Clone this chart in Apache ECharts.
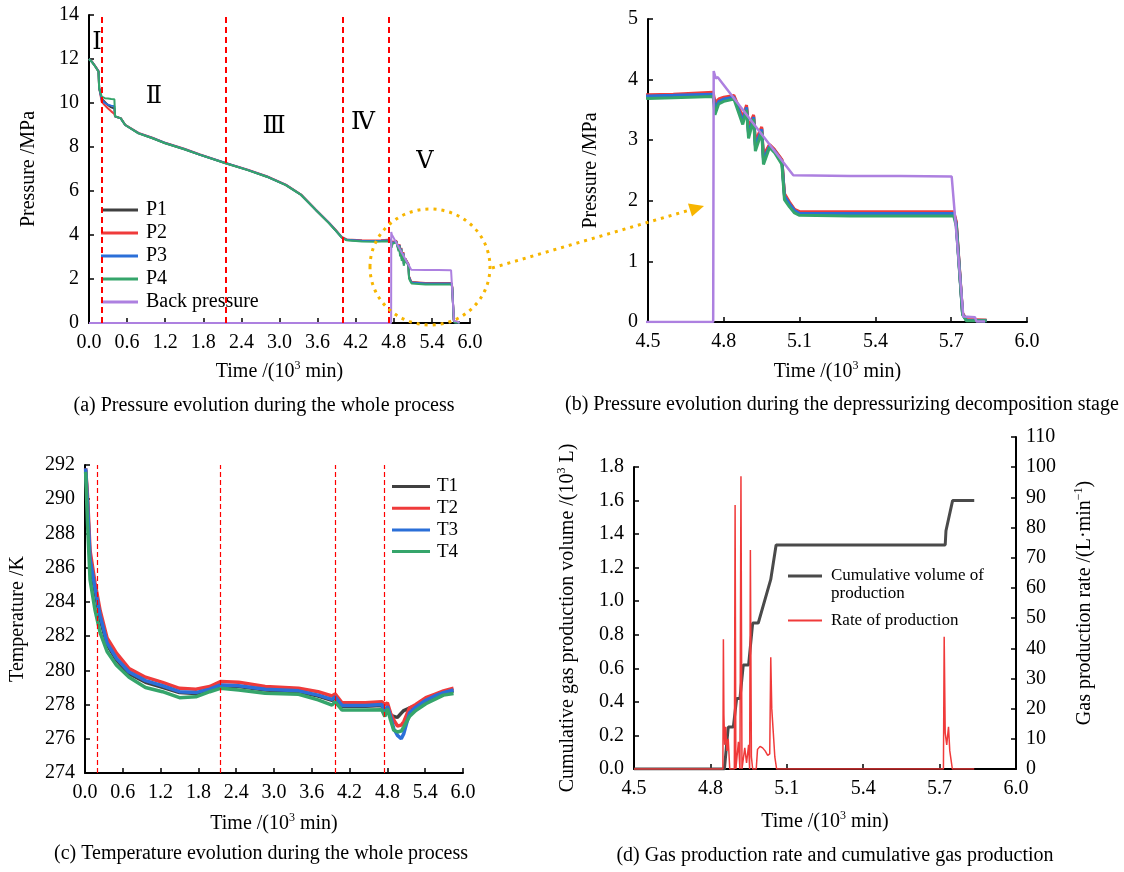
<!DOCTYPE html>
<html>
<head>
<meta charset="utf-8">
<script src="https://cdn.jsdelivr.net/npm/echarts@6/dist/echarts.min.js"></script>
<style>
  html, body { margin: 0; padding: 0; background: #fff; }
  #chart { width: 1124px; height: 872px; }
</style>
</head>
<body>
<div id="chart"></div>
<script>
// ---- pressure (panels a and b), time in 10^3 min, pressure in MPa
const pTime = [0, 0.05, 0.10, 0.15, 0.16, 0.20, 0.25, 0.30, 0.35, 0.40, 0.41, 0.50, 0.57, 0.78, 1.00, 1.20, 1.50, 1.75, 2.15, 2.50,
  2.80, 3.10, 3.34, 3.57, 3.78, 3.90, 3.98, 4.06, 4.30, 4.50, 4.60, 4.758, 4.765, 4.78, 4.80, 4.84, 4.875, 4.89, 4.898, 4.918,
  4.925, 4.95, 4.957, 4.981, 5.00, 5.03, 5.04, 5.06, 5.08, 5.10, 5.30, 5.50, 5.71, 5.72, 5.745, 5.76, 5.84];
const p1 = [12.0, 11.86, 11.66, 11.43, 10.68, 10.2, 10.05, 9.9, 9.8, 9.75, 9.39, 9.3, 9.0, 8.62, 8.4, 8.17, 7.9, 7.64, 7.26, 6.95,
  6.65, 6.27, 5.82, 5.14, 4.54, 4.16, 3.89, 3.77, 3.73, 3.73, 3.74, 3.76, 3.55, 3.65, 3.68, 3.72, 3.34, 3.55, 3.12, 3.4,
  2.92, 3.2, 2.7, 2.92, 2.84, 2.67, 2.1, 1.96, 1.85, 1.8, 1.8, 1.8, 1.8, 1.63, 0.14, 0.03, 0.03];
const p2 = [12.0, 11.87, 11.67, 11.45, 10.7, 10.05, 9.9, 9.75, 9.62, 9.5, 9.38, 9.31, 9.01, 8.64, 8.42, 8.19, 7.92, 7.66, 7.28, 6.97,
  6.67, 6.29, 5.84, 5.16, 4.56, 4.18, 3.91, 3.8, 3.76, 3.75, 3.76, 3.79, 3.62, 3.68, 3.71, 3.74, 3.38, 3.58, 3.2, 3.42,
  2.98, 3.22, 2.75, 2.93, 2.85, 2.68, 2.12, 1.98, 1.86, 1.82, 1.82, 1.82, 1.82, 1.66, 0.15, 0.04, 0.03];
const p3 = [12.0, 11.86, 11.66, 11.44, 10.68, 10.15, 10.0, 9.92, 9.88, 9.85, 9.39, 9.3, 9.0, 8.63, 8.41, 8.18, 7.91, 7.65, 7.27, 6.96,
  6.66, 6.28, 5.83, 5.15, 4.55, 4.16, 3.89, 3.78, 3.74, 3.73, 3.74, 3.76, 3.52, 3.64, 3.68, 3.71, 3.32, 3.54, 3.1, 3.38,
  2.9, 3.18, 2.67, 2.9, 2.83, 2.65, 2.08, 1.95, 1.84, 1.79, 1.79, 1.79, 1.79, 1.62, 0.13, 0.03, 0.02];
const p4 = [12.0, 11.85, 11.65, 11.42, 10.67, 10.29, 10.22, 10.2, 10.18, 10.17, 9.4, 9.3, 9.0, 8.62, 8.4, 8.17, 7.9, 7.64, 7.26, 6.95,
  6.65, 6.27, 5.82, 5.14, 4.53, 4.15, 3.88, 3.76, 3.7, 3.69, 3.7, 3.72, 3.42, 3.6, 3.64, 3.68, 3.26, 3.5, 3.03, 3.35,
  2.82, 3.14, 2.6, 2.88, 2.8, 2.6, 2.02, 1.9, 1.8, 1.76, 1.75, 1.75, 1.75, 1.58, 0.12, 0.02, 0.02];
const bpTime = [0, 4.758, 4.760, 4.768, 4.776, 5.075, 5.30, 5.50, 5.702, 5.748, 5.794, 5.80, 5.834];
const backPressure = [0, 0, 4.14, 4.02, 4.04, 2.42, 2.41, 2.41, 2.40, 0.09, 0.08, 0.01, 0.01];

// ---- temperature (panel c), K
const tTime = [0.01, 0.04, 0.08, 0.16, 0.24, 0.35, 0.5, 0.7, 0.96, 1.23, 1.5, 1.76, 1.98, 2.15, 2.44, 2.86, 3.39, 3.7, 3.92, 3.97,
  4.08, 4.45, 4.71, 4.76, 4.8, 4.85, 4.9, 4.96, 5.02, 5.06, 5.15, 5.25, 5.41, 5.55, 5.69, 5.85];
const t1 = [291.7, 289.7, 286.3, 284.6, 283.0, 281.5, 280.6, 279.8, 279.3, 279.0, 278.7, 278.65, 278.85, 279.1, 279.05, 278.85, 278.75, 278.5, 278.25, 278.4,
  277.9, 277.9, 277.95, 277.5, 277.85, 277.4, 277.3, 277.25, 277.5, 277.65, 277.8, 277.9, 278.2, 278.45, 278.65, 278.8];
const t2 = [291.8, 290.2, 287.0, 285.1, 283.5, 281.9, 281.0, 280.1, 279.6, 279.3, 278.95, 278.9, 279.05, 279.35, 279.3, 279.05, 278.95, 278.75, 278.5, 278.62,
  278.1, 278.1, 278.17, 278.0, 278.1, 277.5, 277.1, 276.75, 276.8, 277.0, 277.8, 278.0, 278.4, 278.6, 278.8, 278.95];
const t3 = [291.8, 289.8, 286.5, 284.8, 283.2, 281.6, 280.7, 279.9, 279.4, 279.1, 278.75, 278.7, 278.9, 279.15, 279.1, 278.9, 278.8, 278.55, 278.3, 278.45,
  277.95, 277.95, 278.0, 277.6, 277.9, 277.3, 276.6, 276.2, 276.0, 276.3, 277.5, 277.85, 278.25, 278.5, 278.7, 278.85];
const t4 = [291.6, 288.6, 285.3, 283.5, 282.2, 281.1, 280.3, 279.6, 279.0, 278.75, 278.4, 278.45, 278.75, 278.95, 278.85, 278.66, 278.6, 278.27, 277.97, 278.17,
  277.68, 277.68, 277.7, 277.3, 277.75, 277.1, 276.5, 276.4, 276.45, 276.7, 277.3, 277.65, 278.05, 278.3, 278.55, 278.65];

// ---- gas production (panel d)
const cumTime = [4.5, 4.855, 4.87, 4.89, 4.903, 4.916, 4.929, 4.95, 4.966, 4.988, 5.037, 5.058, 5.722, 5.725, 5.751, 5.836];
const cumVolume = [0, 0, 0.25, 0.25, 0.42, 0.42, 0.62, 0.62, 0.87, 0.87, 1.13, 1.335, 1.335, 1.42, 1.6, 1.6];
const rateTime = [4.5, 4.849, 4.851, 4.853, 4.856, 4.860, 4.865, 4.870, 4.876, 4.894, 4.897, 4.900, 4.905, 4.910, 4.916, 4.920,
  4.924, 4.928, 4.935, 4.942, 4.950, 4.954, 4.957, 4.961, 4.966, 4.972, 4.980, 4.985, 4.995, 5.005, 5.015, 5.025,
  5.033, 5.037, 5.041, 5.047, 5.053, 5.060, 5.715, 5.718, 5.722, 5.728, 5.735, 5.740, 5.745, 5.750, 5.753, 5.836];
const rate = [0, 0, 43, 18, 8, 14, 6, 10, 0, 0, 87.5, 0, 0, 9, 0, 97,
  0, 0, 7, 2, 8, 0, 72.6, 4, 0, 0, 0, 6.5, 7.5, 7, 6, 4.5,
  5, 37, 20, 12, 4, 0, 0, 43.8, 12, 8, 14, 6, 3, 0, 0, 0];

// stage boundaries (dashed red lines)
const stagesA = [0.2, 2.15, 3.99, 4.72];
const stagesC = [0.19, 2.14, 3.98, 4.75];

const serif = '"Liberation Serif", "Times New Roman", serif';
const colors = { c1: '#404040', c2: '#ef3b3b', c3: '#2b6fd8', c4: '#35a56b', bp: '#ad80e0', gold: '#f7b500' };

const zip = (xs, ys) => xs.map((x, i) => [x, ys[i]]);

const supRich = {
  sup: { fontFamily: serif, fontSize: 12, color: '#000', verticalAlign: 'bottom', padding: [0, 0, 12, 0] }
};

function axisCommon() {
  return {
    type: 'value',
    nameLocation: 'middle',
    nameTextStyle: { color: '#000', fontFamily: serif, fontSize: 20, rich: supRich },
    axisLine: { show: true, onZero: false, lineStyle: { color: '#000', width: 2 } },
    axisTick: { show: true, inside: true, length: 5, lineStyle: { color: '#000', width: 1.5 } },
    axisLabel: { color: '#000', fontFamily: serif, fontSize: 20, margin: 10 },
    splitLine: { show: false }
  };
}

function timeAxis(grid, min, max, interval, gap) {
  const a = axisCommon();
  a.gridIndex = grid;
  a.min = min; a.max = max; a.interval = interval;
  a.name = 'Time /(10{sup|3} min)';
  a.nameGap = gap;
  a.axisLabel.formatter = v => v.toFixed(1);
  return a;
}

function valAxis(grid, min, max, interval, name, gap, digits, pos) {
  const a = axisCommon();
  a.gridIndex = grid;
  a.min = min; a.max = max; a.interval = interval;
  a.name = name;
  a.nameGap = gap;
  if (pos) a.position = pos;
  a.axisLabel.formatter = v => v.toFixed(digits);
  return a;
}

function line(name, xs, ys, color, width, axis) {
  return {
    type: 'line', name, data: zip(xs, ys),
    xAxisIndex: axis, yAxisIndex: axis,
    symbol: 'none', animation: false,
    lineStyle: { color, width }, itemStyle: { color }
  };
}

function stageLines(axis, values, width, dash) {
  return {
    type: 'line', name: 'stage' + axis, data: [], xAxisIndex: axis, yAxisIndex: axis,
    animation: false,
    markLine: {
      silent: true, symbol: ['none', 'none'], animation: false,
      label: { show: false },
      lineStyle: { color: '#ff0000', width, type: dash },
      data: values.map(v => ({ xAxis: v }))
    }
  };
}

function caption(text, x, y, align) {
  return {
    type: 'text', z: 50,
    style: { text, x, y, align: align || 'center', verticalAlign: 'middle',
      font: '20px ' + serif, fill: '#000' }
  };
}

function roman(text, x, y) {
  return {
    type: 'text', z: 50,
    style: { text, x, y, align: 'center', verticalAlign: 'middle',
      font: '24px "Liberation Serif", "DejaVu Serif", serif', fill: '#000' }
  };
}

const chart = echarts.init(document.getElementById('chart'));

const option = {
  animation: false,
  backgroundColor: '#fff',
  textStyle: { fontFamily: serif },
  grid: [
    { left: 89, top: 15, width: 381, height: 308 },
    { left: 648, top: 19, width: 379, height: 303 },
    { left: 85, top: 465, width: 378, height: 308 },
    { left: 634, top: 467, width: 382, height: 302 },
    { left: 634, top: 437, width: 382, height: 332 }
  ],
  xAxis: [
    timeAxis(0, 0, 6, 0.6, 37),
    timeAxis(1, 4.5, 6, 0.3, 38),
    timeAxis(2, 0, 6, 0.6, 39),
    timeAxis(3, 4.5, 6, 0.3, 41),
    Object.assign(timeAxis(4, 4.5, 6, 0.3, 41), { show: false })
  ],
  yAxis: [
    valAxis(0, 0, 14, 2, 'Pressure /MPa', 50, 0),
    valAxis(1, 0, 5, 1, 'Pressure /MPa', 47, 0),
    valAxis(2, 274, 292, 2, 'Temperature /K', 57, 0),
    valAxis(3, 0, 1.8, 0.2, 'Cumulative gas production volume /(10{sup|3} L)', 54, 1),
    valAxis(4, 0, 110, 10, 'Gas production rate /(L·min{sup|−1})', 57, 0, 'right')
  ],
  legend: [
    {
      orient: 'vertical', left: 101, top: 200, padding: 0,
      icon: 'rect', itemWidth: 37, itemHeight: 3, itemGap: 3,
      textStyle: { fontFamily: serif, fontSize: 20, color: '#000', padding: [0, 0, 0, 3] },
      data: ['P1', 'P2', 'P3', 'P4', 'Back pressure']
    },
    {
      orient: 'vertical', left: 392, top: 477, padding: 0,
      icon: 'rect', itemWidth: 38, itemHeight: 3, itemGap: 2.7,
      textStyle: { fontFamily: serif, fontSize: 19, color: '#000', padding: [0, 0, 0, 2] },
      data: ['T1', 'T2', 'T3', 'T4']
    },
    {
      // leading blank line keeps the bar level with the first text line
      orient: 'vertical', left: 788, top: 549, padding: 0,
      icon: 'rect', itemWidth: 34, itemHeight: 3,
      textStyle: { fontFamily: serif, fontSize: 17, color: '#000', lineHeight: 18, padding: [0, 0, 0, 4] },
      formatter: () => ' \nCumulative volume of\nproduction',
      data: ['Cumulative volume of production']
    },
    {
      orient: 'vertical', left: 788, top: 612, padding: 0,
      icon: 'rect', itemWidth: 34, itemHeight: 2,
      textStyle: { fontFamily: serif, fontSize: 17, color: '#000', padding: [0, 0, 0, 4] },
      data: ['Rate of production']
    }
  ],
  series: [
    // (a) whole process
    line('P1', pTime, p1, colors.c1, 2, 0),
    line('P2', pTime, p2, colors.c2, 2, 0),
    line('P3', pTime, p3, colors.c3, 2, 0),
    line('P4', pTime, p4, colors.c4, 2, 0),
    line('Back pressure', bpTime, backPressure, colors.bp, 2, 0),
    stageLines(0, stagesA, 2, [6, 4]),
    // (b) depressurizing stage
    line('P1', pTime, p1, colors.c1, 3, 1),
    line('P2', pTime, p2, colors.c2, 3, 1),
    line('P3', pTime, p3, colors.c3, 3, 1),
    line('P4', pTime, p4, colors.c4, 3, 1),
    line('Back pressure', bpTime, backPressure, colors.bp, 2.5, 1),
    // (c) temperature
    line('T1', tTime, t1, colors.c1, 3.5, 2),
    line('T2', tTime, t2, colors.c2, 3.5, 2),
    line('T3', tTime, t3, colors.c3, 3.5, 2),
    line('T4', tTime, t4, colors.c4, 3.5, 2),
    stageLines(2, stagesC, 1.2, [5, 3]),
    // (d) gas production
    line('Cumulative volume of production', cumTime, cumVolume, '#4a4a4a', 3, 3),
    line('Rate of production', rateTime, rate, '#f03a3a', 1.5, 4)
  ],
  graphic: [
    caption('(a) Pressure evolution during the whole process', 264, 406),
    caption('(b) Pressure evolution during the depressurizing decomposition stage', 565, 405, 'left'),
    caption('(c) Temperature evolution during the whole process', 261, 854),
    caption('(d) Gas production rate and cumulative gas production', 835, 856),
    roman('Ⅰ', 97, 43),
    roman('Ⅱ', 154, 97),
    roman('Ⅲ', 274, 127),
    roman('Ⅳ', 363, 123),
    roman('Ⅴ', 425, 162),
    {
      type: 'ellipse', z: 60,
      shape: { cx: 430, cy: 267, rx: 60, ry: 58 },
      style: { fill: null, stroke: colors.gold, lineWidth: 3, lineDash: [3, 5] }
    },
    {
      type: 'line', z: 60,
      shape: { x1: 492, y1: 268, x2: 690, y2: 210 },
      style: { stroke: colors.gold, lineWidth: 3, lineDash: [3, 5] }
    },
    {
      type: 'polygon', z: 60,
      shape: { points: [[704, 206], [688, 203.5], [692, 216.5]] },
      style: { fill: colors.gold }
    }
  ]
};

chart.setOption(option);
</script>
</body>
</html>
